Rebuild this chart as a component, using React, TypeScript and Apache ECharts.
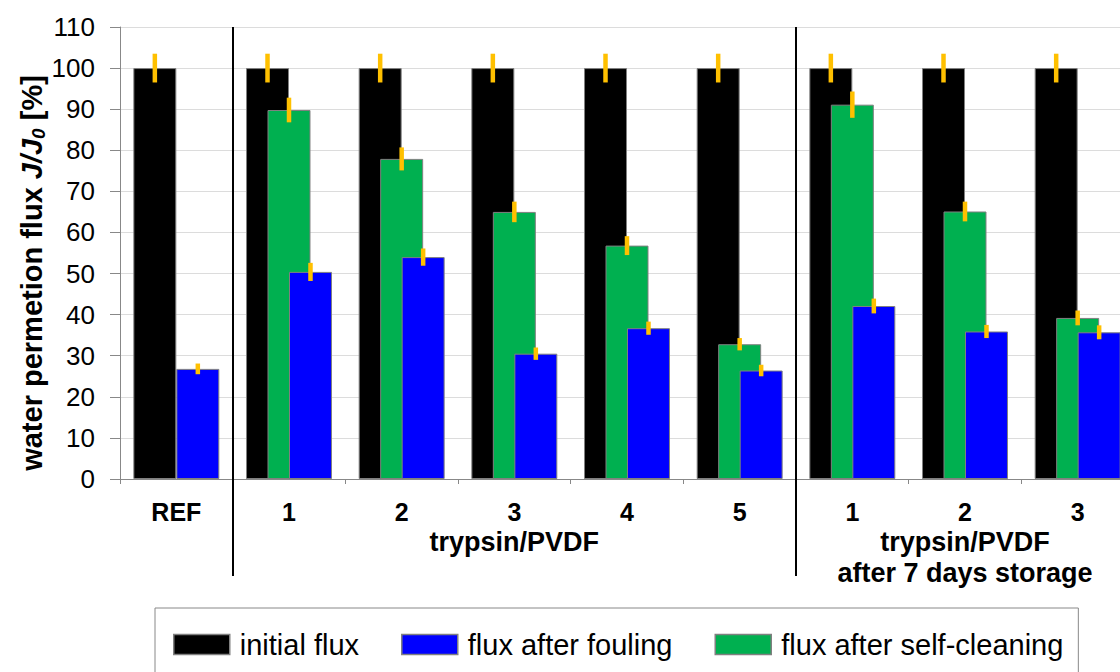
import React, { useEffect, useRef } from "react";
import * as echarts from "echarts";

const CATEGORIES = ["REF", "1", "2", "3", "4", "5", "1", "2", "3"];
const GROUP_LABELS = ["", "", "", "trypsin/PVDF", "", "", "", "trypsin/PVDF\nafter 7 days storage", ""];
const Y_TICKS_MAX = 110;

const INITIAL = [100, 100, 100, 100, 100, 100, 100, 100, 100];
const INITIAL_ERR = [3.5, 3.5, 3.5, 3.5, 3.5, 3.5, 3.5, 3.5, 3.5];
const CLEANED = [null, 89.8, 77.9, 65.0, 56.8, 32.8, 91.1, 65.1, 39.2];
const CLEANED_ERR = [null, 3.0, 2.8, 2.5, 2.3, 1.5, 3.2, 2.4, 1.8];
const FOULED = [26.8, 50.4, 54.0, 30.5, 36.7, 26.4, 42.1, 35.9, 35.7];
const FOULED_ERR = [1.3, 2.2, 2.1, 1.5, 1.6, 1.4, 1.8, 1.6, 1.7];

const FONT = "'Liberation Sans', Arial, sans-serif";
const BAR_FRAC = 0.3815;

function errSeries(values: (number | null)[], errs: (number | null)[], k: number) {
  const data: number[][] = [];
  values.forEach((v, i) => {
    if (v != null && errs[i] != null) data.push([i, v, errs[i] as number]);
  });
  return {
    type: "custom",
    xAxisIndex: 0,
    yAxisIndex: 0,
    z: 10,
    silent: true,
    encode: { x: 0, y: 1 },
    data,
    renderItem: (params: any, api: any) => {
      const x = api.value(0);
      const v = api.value(1);
      const e = api.value(2);
      const c = api.coord([x, v]);
      const top = api.coord([x, v + e]);
      const bot = api.coord([x, v - e]);
      const bw = api.size([1, 0])[0];
      const cx = c[0] + (k * bw * BAR_FRAC) / 2;
      return {
        type: "rect",
        shape: { x: cx - 2.25, y: top[1], width: 4.5, height: bot[1] - top[1] },
        style: { fill: "#FFC000" },
      };
    },
  };
}

export default function App() {
  const ref = useRef<HTMLDivElement>(null);
  useEffect(() => {
    const chart = echarts.init(ref.current!, null, { renderer: "svg" });
    const barBase = {
      type: "bar",
      barWidth: (BAR_FRAC * 100).toFixed(2) + "%",
      barGap: "-50%",
      xAxisIndex: 0,
      yAxisIndex: 0,
    };
    chart.setOption({
      animation: false,
      backgroundColor: "#fff",
      grid: {
        left: 120,
        top: 27,
        bottom: 193,
        width: 1014,
        containLabel: false,
        outerBoundsMode: "none",
      },
      legend: {
        data: ["initial flux", "flux after fouling", "flux after self-cleaning"],
        left: 155,
        top: 608,
        itemWidth: 56,
        itemHeight: 20,
        itemGap: 42,
        padding: [22, 15, 30, 18],
        borderColor: "#888",
        borderWidth: 1,
        icon: "rect",
        itemStyle: { borderColor: "#808080", borderWidth: 1.5 },
        textStyle: { fontSize: 29, fontFamily: FONT, color: "#000", padding: [0, 0, 0, 5] },
      },
      xAxis: [
        {
          type: "category",
          data: CATEGORIES,
          axisLine: { lineStyle: { color: "#888", width: 1 } },
          axisTick: { show: true, length: 5, lineStyle: { color: "#888" } },
          axisLabel: {
            interval: 0,
            margin: 20,
            fontSize: 25,
            fontWeight: "bold",
            fontFamily: FONT,
            color: "#000",
          },
          splitLine: {
            show: true,
            interval: (i: number) => i === 1 || i === 6,
            lineStyle: { color: "#000", width: 2 },
          },
        },
        {
          type: "category",
          data: CATEGORIES,
          position: "bottom",
          axisLine: { show: false },
          axisTick: {
            show: true,
            length: 97,
            interval: (i: number) => i === 1 || i === 6,
            lineStyle: { color: "#000", width: 2 },
          },
          axisLabel: {
            interval: 0,
            margin: 47,
            fontSize: 27,
            fontWeight: "bold",
            fontFamily: FONT,
            color: "#000",
            lineHeight: 31,
            formatter: (_v: string, i: number) => GROUP_LABELS[i],
          },
          splitLine: { show: false },
        },
      ],
      yAxis: {
        type: "value",
        min: 0,
        max: Y_TICKS_MAX,
        interval: 10,
        axisLine: { show: true, lineStyle: { color: "#888", width: 1 } },
        axisTick: { show: true, length: 10, lineStyle: { color: "#888" } },
        axisLabel: { margin: 25, fontSize: 26, fontFamily: FONT, color: "#000" },
        splitLine: { show: true, lineStyle: { color: "#dcdcdc", width: 1 } },
      },
      graphic: [
        {
          type: "text",
          x: 32,
          y: 273,
          rotation: Math.PI / 2,
          style: {
            text: "{b|water permetion flux }{i|J/J}{s|0}{b| [%]}",
            align: "center",
            verticalAlign: "middle",
            fill: "#000",
            rich: {
              b: { fontSize: 29, fontWeight: "bold", fontFamily: FONT, lineHeight: 32 },
              i: { fontSize: 29, fontWeight: "bold", fontStyle: "italic", fontFamily: FONT, lineHeight: 32 },
              s: { fontSize: 19, fontWeight: "bold", fontStyle: "italic", fontFamily: FONT, lineHeight: 32, verticalAlign: "bottom", padding: [14, 0, 0, 0] },
            },
          },
        },
      ],
      series: [
        {
          ...barBase,
          name: "initial flux",
          data: INITIAL,
          itemStyle: { color: "#000", borderColor: "#808080", borderWidth: 1 },
        },
        {
          ...barBase,
          name: "flux after self-cleaning",
          data: CLEANED,
          itemStyle: { color: "#00B050", borderColor: "#808080", borderWidth: 1 },
        },
        {
          ...barBase,
          name: "flux after fouling",
          data: FOULED,
          itemStyle: { color: "#0000FF", borderColor: "#808080", borderWidth: 1 },
        },
        errSeries(INITIAL, INITIAL_ERR, -1),
        errSeries(CLEANED, CLEANED_ERR, 0),
        errSeries(FOULED, FOULED_ERR, 1),
      ],
    });
    return () => chart.dispose();
  }, []);
  return (
    <div
      ref={ref}
      style={{ position: "absolute", left: 0, top: 0, width: 1120, height: 672 }}
    />
  );
}
